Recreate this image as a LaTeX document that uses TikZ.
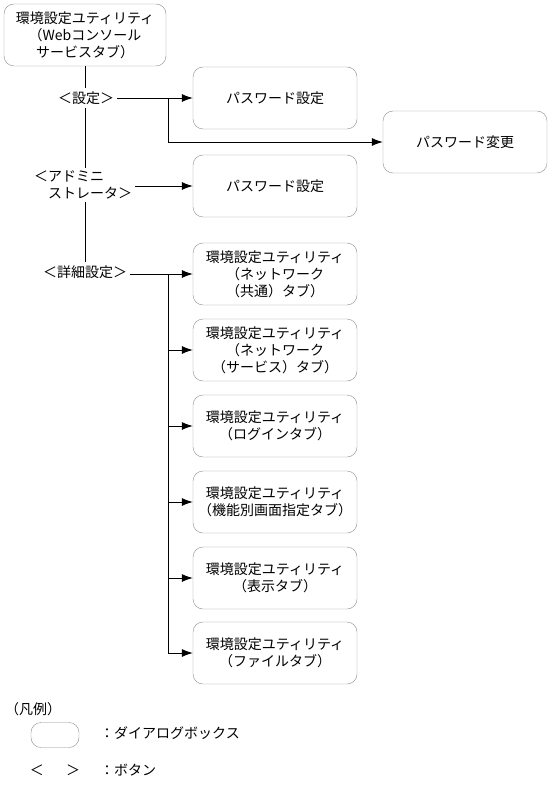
\documentclass[tikz,border=0pt]{standalone}
\usepackage{fontspec}
\setmainfont{Noto Sans CJK JP}
\usetikzlibrary{positioning,arrows.meta}

\begin{document}
\begin{tikzpicture}[
    x=1pt, y=-1pt,
    dialog/.style={draw=black!45, rectangle, rounded corners=10pt, minimum width=164pt, minimum height=62pt, align=center, inner sep=2pt},
    button/.style={inner sep=3pt, align=center},
    arrow/.style={-{Latex[length=11pt,width=8pt]}, thick},
    line/.style={thick},
    font=\fontsize{14}{17}\selectfont
]
\useasboundingbox (0,0) rectangle (550,786);

% --- Pantalla principal ---
\node[dialog, minimum width=162pt] (top) at (85,35) {環境設定ユティリティ\\（Webコンソール\\サービスタブ）};

% --- Botones ---
\node[button] (set) at (86,98) {＜設定＞};
\node[button, align=left] (admin) at (83,185) {＜アドミニ\\\hspace{1em}ストレータ＞};
\node[button] (detail) at (85,272) {＜詳細設定＞};

% --- Dialogos de contrasena ---
\node[dialog] (pw1) at (275,98) {パスワード設定};
\node[dialog] (chg) at (465,142) {パスワード変更};
\node[dialog] (pw2) at (275,186) {パスワード設定};

% --- Dialogos de configuracion detallada ---
\node[dialog] (u1) at (275,274) {環境設定ユティリティ\\（ネットワーク\\（共通）タブ）};
\node[dialog] (u2) at (275,350) {環境設定ユティリティ\\（ネットワーク\\（サービス）タブ）};
\node[dialog] (u3) at (275,426) {環境設定ユティリティ\\（ログインタブ）};
\node[dialog] (u4) at (275,502) {環境設定ユティリティ\\（機能別画面指定タブ）};
\node[dialog] (u5) at (275,578) {環境設定ユティリティ\\（表示タブ）};
\node[dialog] (u6) at (275,653) {環境設定ユティリティ\\（ファイルタブ）};

% --- Leyenda ---
\node[anchor=west, inner sep=0pt] (legend) at (5,709) {（凡例）};
\node[draw=black!45, rectangle, rounded corners=10pt, minimum width=48pt, minimum height=25pt] (lgbox) at (55,735) {};
\node[anchor=west, inner sep=0pt] (lgdlg) at (100,733) {：ダイアログボックス};
\node[inner sep=0pt] (lgbtn) at (55,770) {＜\hspace{1.6em}＞};
\node[anchor=west, inner sep=0pt] (lgbtntxt) at (100,770) {：ボタン};

% --- Linea vertical principal ---
\draw[line] (top.south) -- (top.south |- set.north);
\draw[line] (top.south |- set.south) -- (top.south |- admin.north);
\draw[line] (top.south |- admin.south) -- (top.south |- detail.north);

% --- Conexiones ---
\coordinate (b1) at (168,98);
\coordinate (b2) at (168,274);
\draw[arrow] (set) -- (pw1);
\draw[arrow] (b1) |- (chg.west);
\draw[arrow] (admin.east |- pw2) -- (pw2);
\draw[arrow] (detail.east |- u1) -- (u1);
\foreach \i in {2,...,6}
  \draw[arrow] (b2) |- (u\i.west);

\end{tikzpicture}
\end{document}
